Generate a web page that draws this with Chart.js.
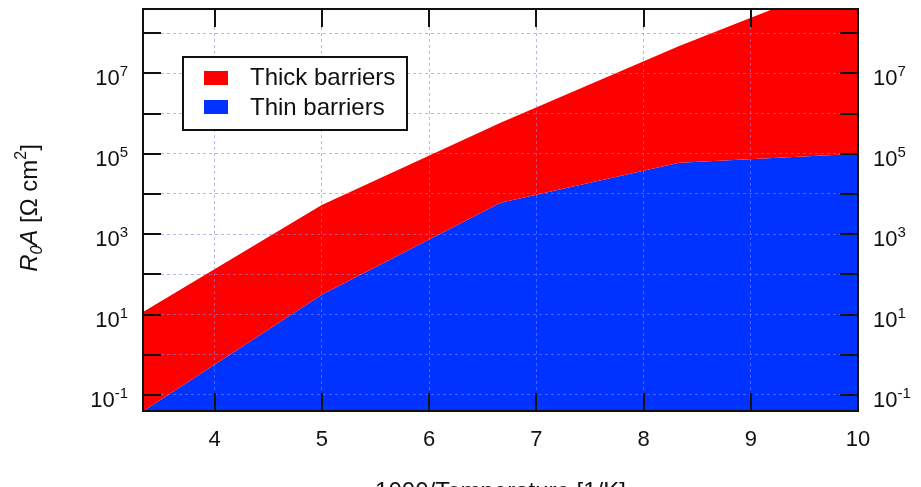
<!DOCTYPE html>
<html>
<head>
<meta charset="utf-8">
<script src="https://cdn.jsdelivr.net/npm/chart.js@4.4.1/dist/chart.umd.min.js"></script>
<style>
  html, body { margin: 0; padding: 0; background: #ffffff; }
  canvas { display: block; }
</style>
</head>
<body>
<canvas id="c" width="921" height="487" style="width:921px;height:487px"></canvas>
<script>
// ---- data ----
const invTemp = [3.333, 5, 6.667, 8.333, 10];          // 1000/Temperature [1/K]
const thickBarriers = [11.5, 5300, 590000, 4.8e7, 2.7e9];  // R0A [Ohm cm^2]
const thinBarriers  = [0.039, 31, 6000, 60000, 100000];    // R0A [Ohm cm^2]
const seriesLabels = ['Thick barriers', 'Thin barriers'];
const seriesColors = ['#ff0000', '#0033ff'];
const xTickValues = [4, 5, 6, 7, 8, 9, 10];
const xTickLabels = ['4', '5', '6', '7', '8', '9', '10'];
const yTickExponents = [-1, 0, 1, 2, 3, 4, 5, 6, 7, 8];
const yLabelExponents = [-1, 1, 3, 5, 7];
const xRange = [3.333, 10];
const yRange = [0.0398, 3.98e8];

const FONT = "'Liberation Sans', Arial, Helvetica, sans-serif";

function drawRich(ctx, segs, x, y, align) {
  let w = 0;
  segs.forEach(s => { ctx.font = s.font; s.w = ctx.measureText(s.t).width; w += s.w; });
  let cx = align === 'right' ? x - w : (align === 'center' ? x - w / 2 : x);
  ctx.textAlign = 'left';
  ctx.textBaseline = 'alphabetic';
  segs.forEach(s => { ctx.font = s.font; ctx.fillText(s.t, cx, y + (s.dy || 0)); cx += s.w; });
}

const decor = {
  id: 'decor',
  afterDraw(chart) {
    const ctx = chart.ctx;
    const a = chart.chartArea;
    const xs = chart.scales.x, ys = chart.scales.y;
    ctx.save();
    ctx.fillStyle = '#111';
    ctx.strokeStyle = '#111';
    ctx.lineWidth = 2;
    ctx.setLineDash([]);
    // inward tick marks
    const TL = 18;
    ctx.beginPath();
    yTickExponents.forEach(e => {
      const py = Math.round(ys.getPixelForValue(Math.pow(10, e)));
      ctx.moveTo(a.left, py); ctx.lineTo(a.left + TL, py);
      ctx.moveTo(a.right, py); ctx.lineTo(a.right - TL, py);
    });
    xTickValues.forEach(v => {
      if (v >= xRange[1]) return;
      const px = Math.round(xs.getPixelForValue(v));
      ctx.moveTo(px, a.bottom); ctx.lineTo(px, a.bottom - TL);
      ctx.moveTo(px, a.top); ctx.lineTo(px, a.top + TL);
    });
    ctx.stroke();
    // frame
    ctx.strokeRect(a.left, a.top, a.right - a.left, a.bottom - a.top);

    // y tick labels (both sides)
    yLabelExponents.forEach(e => {
      const py = ys.getPixelForValue(Math.pow(10, e));
      const segs = () => [
        { t: '10', font: '22px ' + FONT },
        { t: String(e), font: '15px ' + FONT, dy: -9 }
      ];
      drawRich(ctx, segs(), a.left - 15, py + 12, 'right');
      drawRich(ctx, segs(), a.right + 15, py + 12, 'left');
    });
    // x tick labels
    ctx.font = '22px ' + FONT;
    ctx.textAlign = 'center';
    ctx.textBaseline = 'alphabetic';
    xTickValues.forEach((v, i) => {
      ctx.fillText(xTickLabels[i], xs.getPixelForValue(v), 446);
    });
    // x axis title
    ctx.font = '24px ' + FONT;
    ctx.fillText('1000/Temperature [1/K]', (a.left + a.right) / 2, 499);

    // y axis title (rotated)
    ctx.save();
    ctx.translate(37, 208);
    ctx.rotate(-Math.PI / 2);
    drawRich(ctx, [
      { t: 'R', font: 'italic 24px ' + FONT },
      { t: '0', font: 'italic 16px ' + FONT, dy: 5 },
      { t: 'A', font: 'italic 24px ' + FONT },
      { t: ' [\u03A9 cm', font: '24px ' + FONT },
      { t: '2', font: '16px ' + FONT, dy: -11 },
      { t: ']', font: '24px ' + FONT }
    ], 0, 0, 'center');
    ctx.restore();

    // legend box
    const lx = 183, ly = 57, lw = 224, lh = 73;
    ctx.fillStyle = '#ffffff';
    ctx.fillRect(lx, ly, lw, lh);
    ctx.strokeStyle = '#111';
    ctx.lineWidth = 2;
    ctx.strokeRect(lx, ly, lw, lh);
    const rows = [{ sy: 71, by: 85 }, { sy: 100, by: 115 }];
    chart.data.datasets.forEach((ds, i) => {
      ctx.fillStyle = ds.backgroundColor;
      ctx.fillRect(204, rows[i].sy, 24, 14);
      ctx.fillStyle = '#111';
      ctx.font = '24px ' + FONT;
      ctx.textAlign = 'left';
      ctx.fillText(ds.label, 250, rows[i].by);
    });
    ctx.restore();
  }
};

const toPts = ys => invTemp.map((x, i) => ({ x: x, y: ys[i] }));
const gridStyle = { color: 'rgba(130,130,255,0.6)', lineWidth: 1, drawTicks: false, z: 1 };

new Chart(document.getElementById('c'), {
  type: 'line',
  data: {
    datasets: [
      {
        label: seriesLabels[0],
        data: toPts(thickBarriers),
        backgroundColor: seriesColors[0],
        borderWidth: 0,
        pointRadius: 0,
        fill: '+1',
        tension: 0
      },
      {
        label: seriesLabels[1],
        data: toPts(thinBarriers),
        backgroundColor: seriesColors[1],
        borderWidth: 0,
        pointRadius: 0,
        fill: 'start',
        tension: 0
      }
    ]
  },
  options: {
    responsive: false,
    devicePixelRatio: 1,
    animation: false,
    layout: { padding: { left: 0, right: 63, top: 9, bottom: 0 } },
    plugins: { legend: { display: false }, tooltip: { enabled: false } },
    scales: {
      x: {
        type: 'linear',
        min: xRange[0],
        max: xRange[1],
        afterBuildTicks: s => { s.ticks = xTickValues.map(v => ({ value: v })); },
        afterFit: s => { s.height = 76; },
        ticks: { display: false },
        grid: gridStyle,
        border: { display: false, dash: [3, 3] },
        title: { display: false }
      },
      y: {
        type: 'logarithmic',
        min: yRange[0],
        max: yRange[1],
        afterBuildTicks: s => { s.ticks = yTickExponents.map(e => ({ value: Math.pow(10, e) })); },
        afterFit: s => { s.width = 143; },
        ticks: { display: false },
        grid: gridStyle,
        border: { display: false, dash: [3, 3] },
        title: { display: false }
      }
    }
  },
  plugins: [decor]
});
</script>
</body>
</html>
